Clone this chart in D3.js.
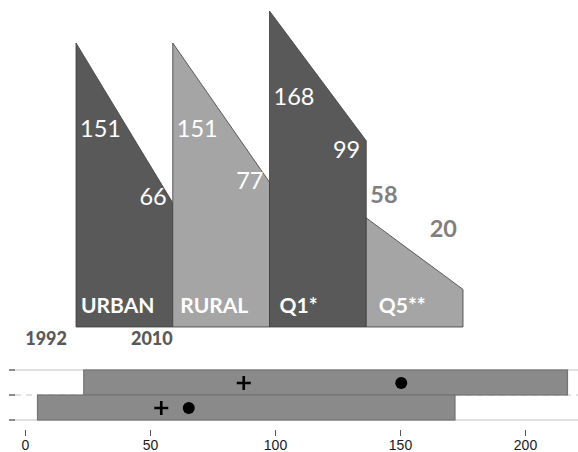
<!DOCTYPE html>
<meta charset="utf-8">
<script src="https://d3js.org/d3.v7.min.js"></script>
<style>
  body { margin: 0; background: #fff; }
</style>
<div id="chart"></div>
<script>

// data
var categories = ["URBAN", "RURAL", "Q1*", "Q5**"];
var v1992 = [151, 151, 168, 58];
var v2010 = [66, 77, 99, 20];
var shade = ["dark", "light", "dark", "light"];
var years = ["1992", "2010"];

// lower panel: one row per year
var rowYears = ["1992", "2010"];
var rowLow = [23.5, 5];
var rowHigh = [217, 172];
var rowMean = [87.5, 54.5];
var rowMedian = [150.5, 65.5];
var axisTicks = [0, 50, 100, 150, 200];

var W = 578, H = 452;
var svg = d3.select("#chart").append("svg")
  .attr("width", W).attr("height", H);

var font = "Lato, 'Open Sans', sans-serif";

// top: slope shapes
var x = d3.scaleBand().domain(categories).range([76, 463]).padding(0);
var y = d3.scaleLinear().domain([0, 168]).range([327, 11]);
var fillOf = { dark: "#595959", light: "#a5a5a5" };

var data = categories.map(function(c, i) {
  return { cat: c, a: v1992[i], b: v2010[i], shade: shade[i] };
});

svg.selectAll(".slope").data(data).enter().append("path")
  .attr("class", "slope")
  .attr("d", function(d) {
    var x0 = x(d.cat), x1 = x0 + x.bandwidth();
    return "M" + x0 + "," + y(0) + "L" + x0 + "," + y(d.a) +
      "L" + x1 + "," + y(d.b) + "L" + x1 + "," + y(0) + "Z";
  })
  .attr("fill", function(d) { return fillOf[d.shade]; })
  .attr("stroke", "#3c3c3c")
  .attr("stroke-width", 0.8);

// value labels: inside the shape if tall, above it if short
data.forEach(function(d) {
  var x0 = x(d.cat), x1 = x0 + x.bandwidth();
  var inside = d.a > 100;
  var g = svg.append("g")
    .style("font-family", font)
    .style("font-size", "23.5px")
    .style("font-weight", inside ? "normal" : "bold")
    .attr("fill", inside ? "#fff" : "#7f7f7f");
  g.append("text")
    .attr("x", x0 + 4)
    .attr("y", inside ? y(d.a) + 94 : y(d.a) - 15)
    .text(d.a);
  g.append("text")
    .attr("x", x1 - 6)
    .attr("y", inside ? y(d.b) + (d.b - 60) * 0.43 : y(d.a) + 19)
    .attr("text-anchor", "end")
    .text(d.b);
});

// category names along the base
svg.selectAll(".cat").data(data).enter().append("text")
  .attr("class", "cat")
  .attr("x", function(d, i) { return x(d.cat) + 5 + i * 2.5; })
  .attr("y", 313)
  .style("font-family", font)
  .style("font-size", "21px")
  .style("font-weight", "bold")
  .attr("fill", "#fff")
  .text(function(d) { return d.cat; });

// year labels under the first shape
svg.append("text")
  .attr("x", x(categories[0]) - 9).attr("y", 345)
  .attr("text-anchor", "end")
  .style("font-family", font).style("font-size", "18px").style("font-weight", "900")
  .attr("fill", "#595959")
  .text(years[0]);
svg.append("text")
  .attr("x", x(categories[0]) + x.bandwidth()).attr("y", 345)
  .attr("text-anchor", "end")
  .style("font-family", font).style("font-size", "18px").style("font-weight", "900")
  .attr("fill", "#595959")
  .text(years[1]);

// bottom: range bars
var bx = d3.scaleLinear().domain([0, 200]).range([25, 525]);
var by = d3.scaleBand().domain(rowYears).range([370, 420]);

// guide lines
[370, 395, 420].forEach(function(yy, i) {
  svg.append("line")
    .attr("x1", 15).attr("x2", W).attr("y1", yy).attr("y2", yy)
    .attr("stroke", "#c4c4c4").attr("stroke-width", 1.2)
    .attr("stroke-dasharray", i == 1 ? "6,5" : null);
  svg.append("line")
    .attr("x1", 9).attr("x2", 15).attr("y1", yy).attr("y2", yy)
    .attr("stroke", "#666").attr("stroke-width", 1.5);
});

var rows = rowYears.map(function(r, i) {
  return { yr: r, lo: rowLow[i], hi: rowHigh[i], mean: rowMean[i], med: rowMedian[i] };
});

svg.selectAll(".rng").data(rows).enter().append("rect")
  .attr("class", "rng")
  .attr("x", function(d) { return bx(d.lo); })
  .attr("width", function(d) { return bx(d.hi) - bx(d.lo); })
  .attr("y", function(d) { return by(d.yr); })
  .attr("height", by.bandwidth())
  .attr("fill", "#8a8a8a")
  .attr("stroke", "#747474")
  .attr("stroke-width", 1.2);

// mean as plus
svg.selectAll(".plus").data(rows).enter().append("path")
  .attr("class", "plus")
  .attr("d", function(d) {
    var cx = bx(d.mean), cy = by(d.yr) + by.bandwidth() / 2 + 0.5, s = 7;
    return "M" + (cx - s) + "," + cy + "H" + (cx + s) + "M" + cx + "," + (cy - s) + "V" + (cy + s);
  })
  .attr("stroke", "#000").attr("stroke-width", 2.6);

// median as dot
svg.selectAll(".dot").data(rows).enter().append("circle")
  .attr("class", "dot")
  .attr("cx", function(d) { return bx(d.med); })
  .attr("cy", function(d) { return by(d.yr) + by.bandwidth() / 2 + 0.5; })
  .attr("r", 6)
  .attr("fill", "#000");

var ax = svg.append("g")
  .attr("transform", "translate(0,430)")
  .call(d3.axisBottom(bx).tickValues(axisTicks).tickSize(6).tickPadding(4));
ax.select(".domain").remove();
ax.selectAll(".tick line").attr("stroke", "#555");
ax.selectAll(".tick text")
  .style("font-family", "'Liberation Sans', Arial, sans-serif")
  .style("font-size", "14px")
  .attr("fill", "#1a1a1a");

</script>
